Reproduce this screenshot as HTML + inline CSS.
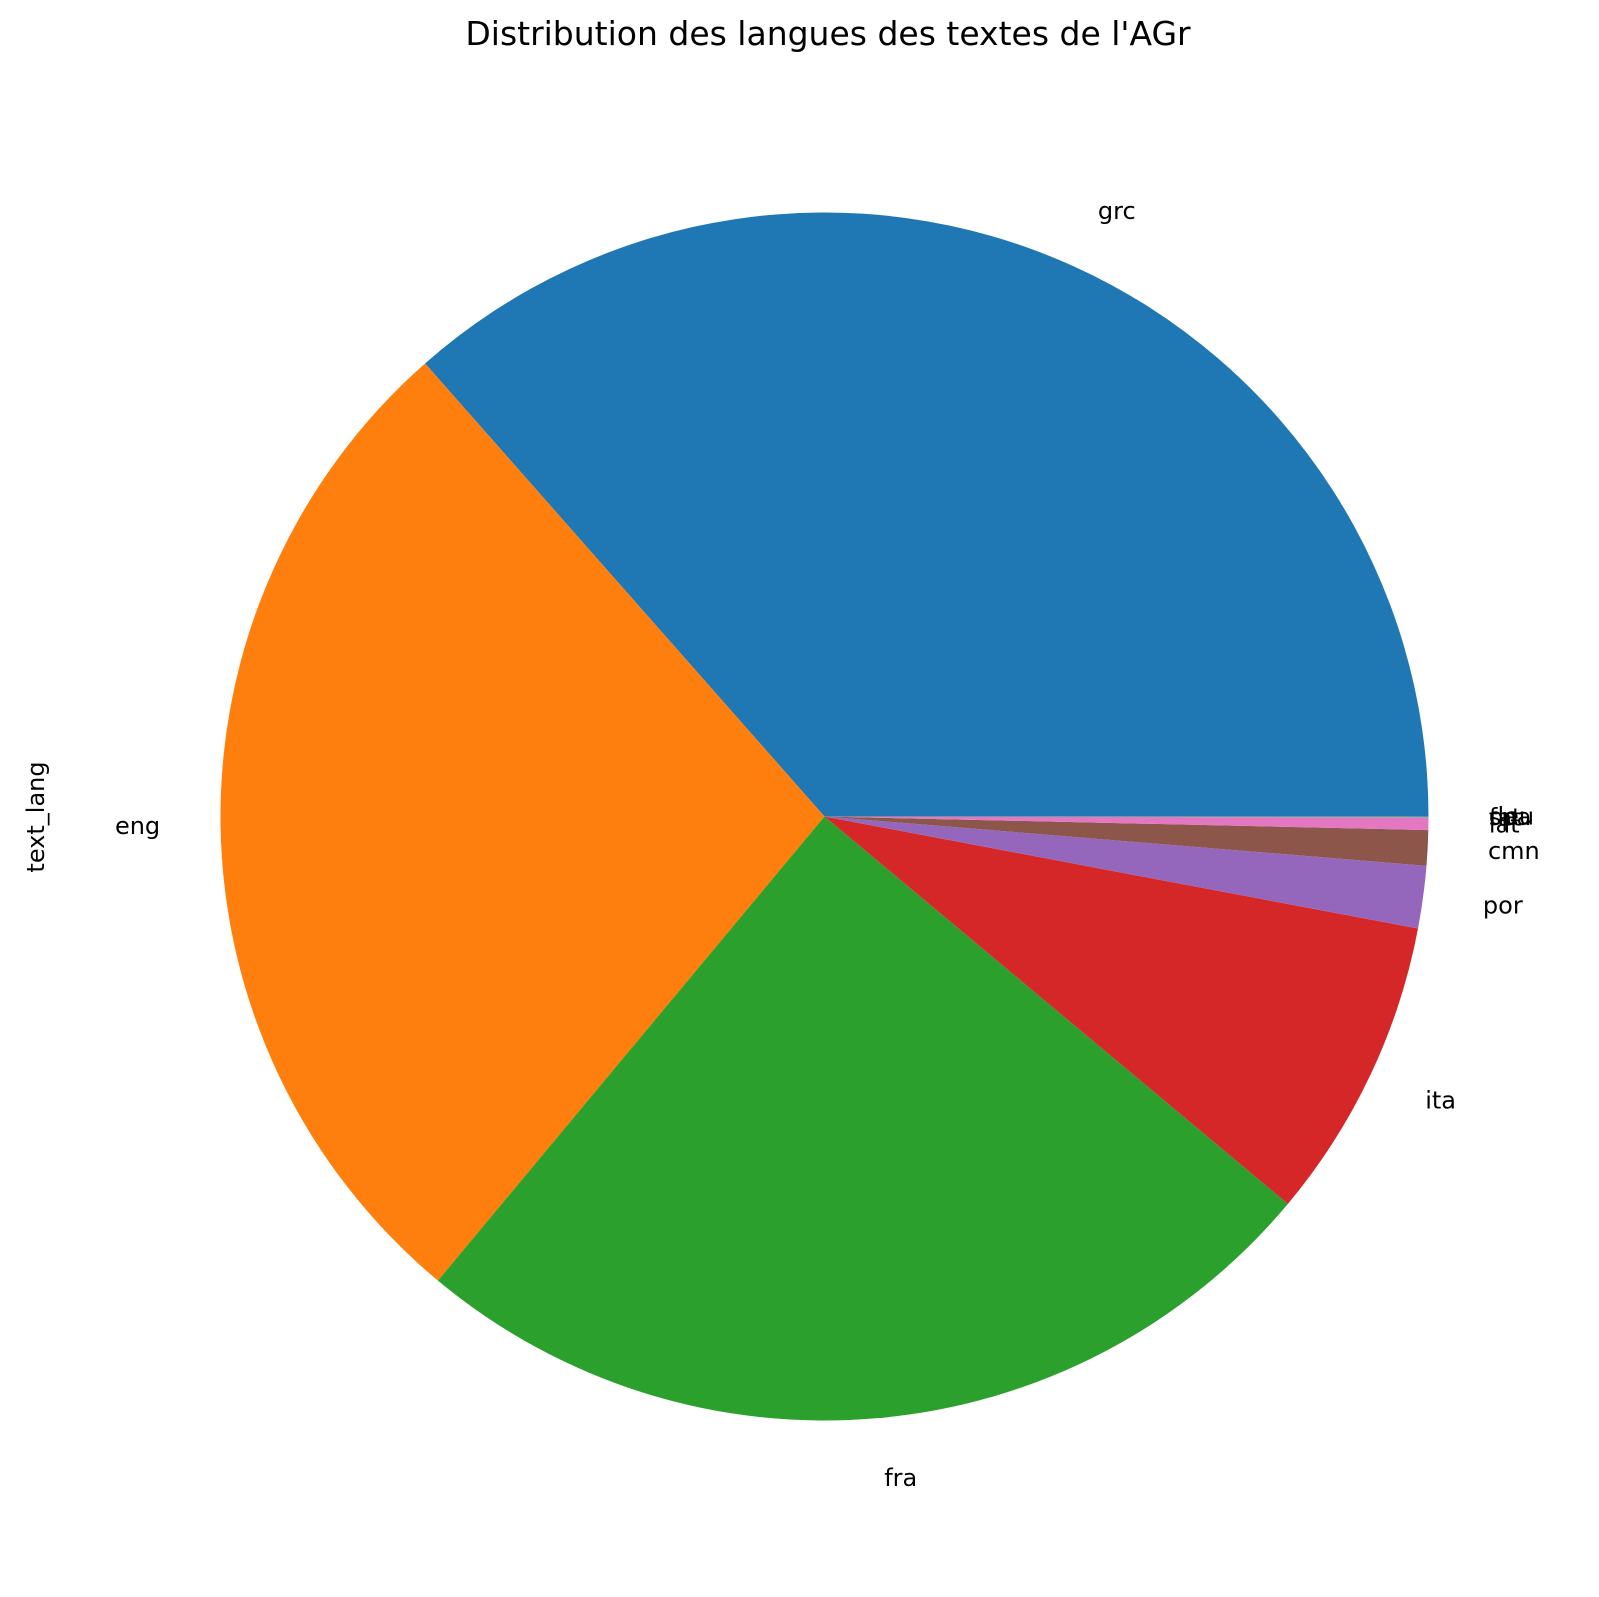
<!DOCTYPE html>
<html><head><meta charset="utf-8"><style>
body{margin:0;background:#fff;}
svg text{font-family:"DejaVu Sans","Liberation Sans",sans-serif;}
</style></head><body>
<svg width="1599" height="1592" viewBox="0 0 1599 1592">
<text x="828" y="45" font-size="33" text-anchor="middle" fill="#000">Distribution des langues des textes de l'AGr</text>
<text transform="translate(44,817) rotate(-90)" font-size="24" text-anchor="middle" fill="#000">text_lang</text>
<g id="slices"></g><g id="labels"></g>
</svg>
<script>
const categories=["grc","eng","fra","ita","por","cmn","lat","fat","spa","deu"];
const values=[1314,988,899,292,60,34,12,0.3,0.3,0.3];
const colors=["#1f77b4","#ff7f0e","#2ca02c","#d62728","#9467bd","#8c564b","#e377c2","#7f7f7f","#bcbd22","#17becf"];
const cx=824.5,cy=816.5,R=604,NS="http://www.w3.org/2000/svg";
const total=values.reduce((a,b)=>a+b,0);
let a0=0;
const gS=document.getElementById('slices'),gL=document.getElementById('labels');
values.forEach((v,i)=>{
  const a1=a0+v/total*2*Math.PI;
  const x0=cx+R*Math.cos(a0),y0=cy-R*Math.sin(a0),x1=cx+R*Math.cos(a1),y1=cy-R*Math.sin(a1);
  const p=document.createElementNS(NS,'path');
  p.setAttribute('d',`M${cx},${cy}L${x0},${y0}A${R},${R} 0 ${a1-a0>Math.PI?1:0} 0 ${x1},${y1}Z`);
  p.setAttribute('fill',colors[i]);
  
  
  gS.appendChild(p);
  const m=(a0+a1)/2,lx=cx+1.1*R*Math.cos(m),ly=cy-1.1*R*Math.sin(m);
  const t=document.createElementNS(NS,'text');
  t.setAttribute('x',lx);t.setAttribute('y',ly+8);
  t.setAttribute('font-size','24');t.setAttribute('fill','#000');
  t.setAttribute('text-anchor',Math.cos(m)>=0?'start':'end');
  t.textContent=categories[i];
  
  
  gL.appendChild(t);
  a0=a1;
});
</script>
</body></html>
